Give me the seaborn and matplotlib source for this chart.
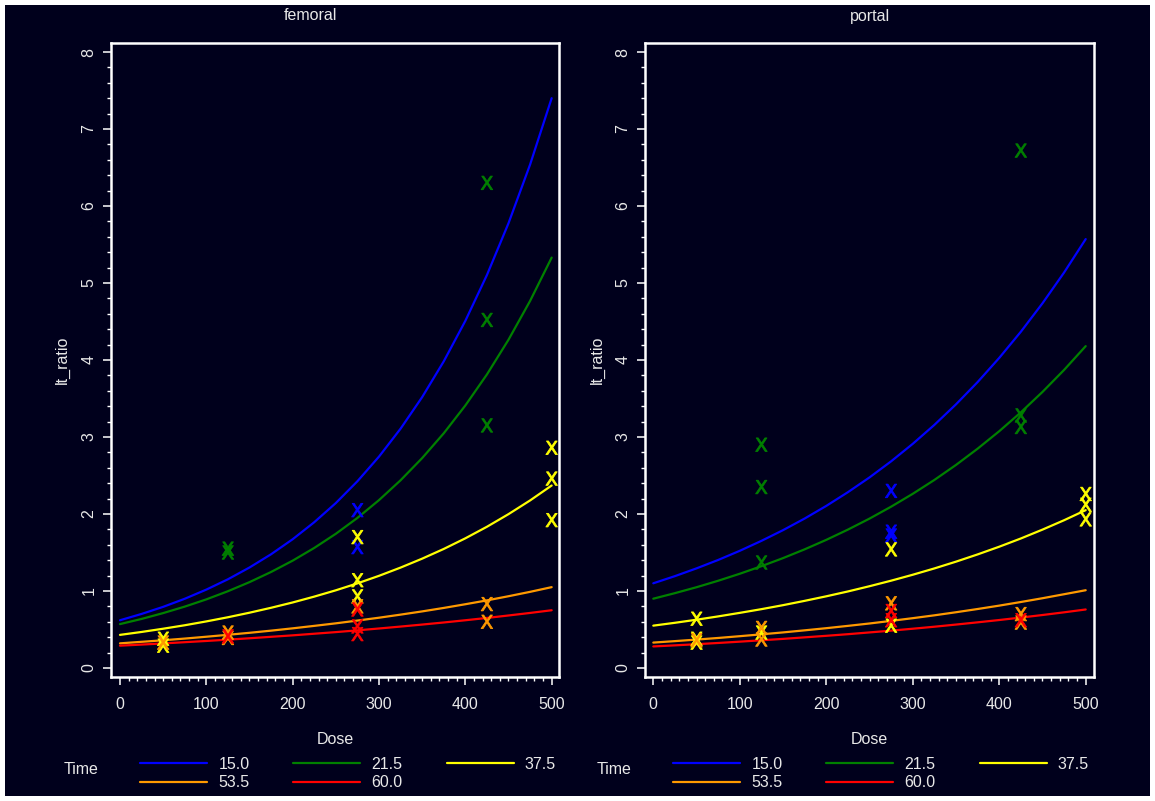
import numpy as np
import pandas as pd
import matplotlib
matplotlib.use("Agg")
import matplotlib.pyplot as plt
from matplotlib.ticker import FixedLocator
from matplotlib.lines import Line2D
import seaborn as sns

# ---------------- data ----------------
panels = ["femoral", "portal"]
time_levels = ["15.0", "21.5", "37.5", "53.5", "60.0"]
time_colors = ["#0000ff", "#008000", "#ffff00", "#ff9900", "#ff0000"]

# observed points (Dose, Time, lt_ratio)
fem_dose = [125, 125, 425, 425, 425,
            275, 275,
            275, 275, 275, 500, 500, 500, 50, 50,
            275, 425, 425, 50, 125, 125,
            275, 275, 275, 125]
fem_time = ["21.5", "21.5", "21.5", "21.5", "21.5",
            "15.0", "15.0",
            "37.5", "37.5", "37.5", "37.5", "37.5", "37.5", "37.5", "37.5",
            "53.5", "53.5", "53.5", "53.5", "53.5", "53.5",
            "60.0", "60.0", "60.0", "60.0"]
fem_ratio = [1.55, 1.50, 6.30, 4.52, 3.15,
             2.05, 1.57,
             1.70, 1.14, 0.93, 2.86, 2.46, 1.92, 0.38, 0.29,
             0.80, 0.83, 0.60, 0.33, 0.46, 0.39,
             0.76, 0.54, 0.44, 0.41]

por_dose = [125, 125, 125, 425, 425, 425,
            275, 275, 275,
            275, 275, 500, 500, 500, 50, 50, 50, 125,
            275, 425, 425, 50, 125, 125,
            275, 275, 425]
por_time = ["21.5", "21.5", "21.5", "21.5", "21.5", "21.5",
            "15.0", "15.0", "15.0",
            "37.5", "37.5", "37.5", "37.5", "37.5", "37.5", "37.5", "37.5", "37.5",
            "53.5", "53.5", "53.5", "53.5", "53.5", "53.5",
            "60.0", "60.0", "60.0"]
por_ratio = [2.90, 2.35, 1.37, 6.72, 3.28, 3.13,
             2.30, 1.77, 1.72,
             1.54, 0.55, 2.26, 2.12, 1.93, 0.64, 0.38, 0.33, 0.46,
             0.84, 0.70, 0.59, 0.36, 0.52, 0.37,
             0.74, 0.62, 0.62]

# fitted curves, read at Dose = 0, 25, 50, ..., 500
curve_dose = [0, 25, 50, 75, 100, 125, 150, 175, 200, 225, 250,
              275, 300, 325, 350, 375, 400, 425, 450, 475, 500]
fem_curves = {
    "15.0": [0.62, 0.702, 0.794, 0.899, 1.018, 1.152, 1.305, 1.477, 1.672, 1.893, 2.142,
             2.425, 2.745, 3.108, 3.518, 3.982, 4.508, 5.103, 5.776, 6.538, 7.40],
    "21.5": [0.57, 0.637, 0.713, 0.797, 0.891, 0.997, 1.115, 1.247, 1.394, 1.559, 1.743,
             1.949, 2.180, 2.438, 2.726, 3.048, 3.409, 3.812, 4.263, 4.767, 5.33],
    "37.5": [0.43, 0.468, 0.510, 0.555, 0.605, 0.659, 0.718, 0.782, 0.851, 0.927, 1.009,
             1.099, 1.197, 1.304, 1.420, 1.546, 1.684, 1.834, 1.998, 2.176, 2.37],
    "53.5": [0.32, 0.340, 0.360, 0.382, 0.406, 0.431, 0.457, 0.485, 0.515, 0.547, 0.580,
             0.616, 0.653, 0.693, 0.735, 0.780, 0.828, 0.878, 0.932, 0.989, 1.05],
    "60.0": [0.29, 0.304, 0.319, 0.335, 0.351, 0.368, 0.386, 0.405, 0.424, 0.445, 0.466,
             0.489, 0.513, 0.538, 0.564, 0.591, 0.620, 0.650, 0.682, 0.715, 0.75],
}
por_curves = {
    "15.0": [1.10, 1.193, 1.294, 1.403, 1.522, 1.651, 1.790, 1.941, 2.105, 2.283, 2.475,
             2.684, 2.911, 3.157, 3.424, 3.713, 4.027, 4.367, 4.736, 5.136, 5.57],
    "21.5": [0.90, 0.972, 1.049, 1.133, 1.224, 1.322, 1.427, 1.541, 1.664, 1.797, 1.940,
             2.095, 2.262, 2.442, 2.637, 2.848, 3.075, 3.320, 3.585, 3.871, 4.18],
    "37.5": [0.55, 0.587, 0.627, 0.670, 0.716, 0.764, 0.816, 0.872, 0.931, 0.994, 1.062,
             1.134, 1.211, 1.293, 1.381, 1.475, 1.575, 1.682, 1.797, 1.919, 2.05],
    "53.5": [0.33, 0.349, 0.369, 0.390, 0.413, 0.437, 0.462, 0.489, 0.517, 0.547, 0.578,
             0.612, 0.647, 0.684, 0.724, 0.766, 0.810, 0.857, 0.906, 0.958, 1.01],
    "60.0": [0.28, 0.294, 0.309, 0.325, 0.342, 0.360, 0.378, 0.398, 0.418, 0.439, 0.462,
             0.485, 0.510, 0.536, 0.564, 0.593, 0.623, 0.655, 0.688, 0.723, 0.76],
}

x_major = [0, 100, 200, 300, 400, 500]
y_major = [0, 1, 2, 3, 4, 5, 6, 7, 8]

# ---------------- style ----------------
BG = "#00001c"
FG = "#e8e8e8"
FS = 11.5
sns.set_theme(style="dark")
plt.rcParams["font.family"] = ["Liberation Sans", "DejaVu Sans"]
plt.rcParams["axes.facecolor"] = BG
plt.rcParams["figure.facecolor"] = BG

W, H = 1155, 801
fig = plt.figure(figsize=(W / 100, H / 100), dpi=100, facecolor=BG,
                 edgecolor="white", linewidth=7)

palette = dict(zip(time_levels, time_colors))

def build_points(d, t, r):
    return pd.DataFrame({"Dose": d, "Time": t, "lt_ratio": r})

def build_curves(cdict):
    rows = []
    for k in time_levels:
        for x, y in zip(curve_dose, cdict[k]):
            rows.append((x, k, y))
    return pd.DataFrame(rows, columns=["Dose", "Time", "lt_ratio"])

panel_specs = [
    dict(name="femoral", pts=build_points(fem_dose, fem_time, fem_ratio),
         crv=build_curves(fem_curves), left=111, right=559, xlim=(-10.4, 508.5),
         title_x=310, time_x=64, leg_x=140, ylab_x=62),
    dict(name="portal", pts=build_points(por_dose, por_time, por_ratio),
         crv=build_curves(por_curves), left=645, right=1094, xlim=(-9.6, 509.6),
         title_x=870, time_x=597, leg_x=673, ylab_x=597),
]

top_px, bot_px = 43, 677
marker = r"$\mathsf{X}$"

for spec in panel_specs:
    axw = spec["right"] - spec["left"]
    axh = bot_px - top_px
    ax = fig.add_axes([spec["left"] / W, 1 - bot_px / H, axw / W, axh / H])
    ax.set_facecolor(BG)
    sns.lineplot(data=spec["crv"], x="Dose", y="lt_ratio", hue="Time",
                 hue_order=time_levels, palette=palette, estimator=None,
                 linewidth=1.6, legend=False, ax=ax)
    sns.scatterplot(data=spec["pts"], x="Dose", y="lt_ratio", hue="Time",
                    hue_order=time_levels, palette=palette, marker=marker,
                    s=95, linewidth=0.6, edgecolor="face", legend=False, ax=ax,
                    zorder=3)
    ax.set_xlim(*spec["xlim"])
    ax.set_ylim(-0.117, 8.117)
    ax.xaxis.set_major_locator(FixedLocator(x_major))
    ax.xaxis.set_minor_locator(FixedLocator([v for v in range(0, 501, 10) if v % 100]))
    ax.yaxis.set_major_locator(FixedLocator(y_major))
    ax.yaxis.set_minor_locator(FixedLocator([i * 0.2 for i in range(41) if i % 5]))
    ax.grid(False)
    for sp in ax.spines.values():
        sp.set_visible(True)
        sp.set_color("white")
        sp.set_linewidth(1.8)
    ax.tick_params(axis="both", which="major", direction="out", length=5.5,
                   width=1.1, color="white", labelcolor=FG, labelsize=FS,
                   bottom=True, left=True)
    ax.tick_params(axis="both", which="minor", direction="out", length=3,
                   width=1.0, color="white", bottom=True, left=True)
    ax.tick_params(axis="x", which="major", pad=9)
    ax.tick_params(axis="y", which="major", pad=5, labelrotation=90)
    for lab in ax.get_yticklabels():
        lab.set_va("center")
    ax.set_xlabel("Dose", color=FG, fontsize=FS)
    ax.set_ylabel("lt_ratio", color=FG, fontsize=FS)
    ax.xaxis.set_label_coords(0.5, -(740 - bot_px) / axh)
    ax.xaxis.label.set_va("center")
    ax.yaxis.set_label_coords(-(spec["left"] - spec["ylab_x"]) / axw, 0.5)
    ax.yaxis.label.set_va("center")

    fig.text(spec["title_x"] / W, 1 - 16 / H, spec["name"], ha="center",
             va="center", color=FG, fontsize=FS)
    fig.text(spec["time_x"] / W, 1 - 769 / H, "Time", ha="left", va="center",
             color=FG, fontsize=FS)

    handles = [Line2D([], [], color=palette[k], linewidth=1.6) for k in time_levels]
    order = [0, 3, 1, 4, 2]
    ax.legend([handles[i] for i in order], [time_levels[i] for i in order],
              ncol=3, loc="upper left", frameon=False,
              bbox_to_anchor=(spec["leg_x"] / W, 1 - 757 / H),
              bbox_transform=fig.transFigure, borderpad=0, borderaxespad=0,
              handlelength=4.2, handletextpad=0.7, columnspacing=2.75,
              labelspacing=0.2, fontsize=FS, labelcolor=FG)

fig.savefig("out.png", dpi=100, facecolor=BG, edgecolor="white")
